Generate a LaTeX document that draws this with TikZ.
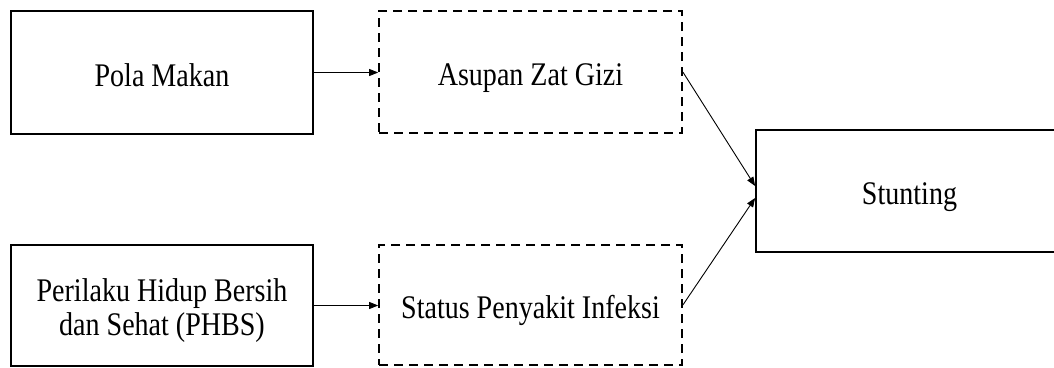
\documentclass[tikz,border=0pt]{standalone}
\usepackage{fontspec}
\setmainfont{Liberation Serif}[FakeStretch=0.85]
\usetikzlibrary{arrows.meta}
\tikzset{
  box/.style={draw, line width=1.8pt, inner sep=0pt, align=center,
    font=\fontsize{33}{34}\selectfont},
  solidbox/.style={box},
  dashbox/.style={box, line width=1.7pt, dash pattern=on 9pt off 6pt},
  oneline/.style={text height=27pt, text depth=0pt},
  link/.style={line width=0.9pt, -{Triangle[length=9pt,width=7pt]}}
}
\begin{document}
\begin{tikzpicture}[x=1pt, y=-1pt]
  \clip (0,0) rectangle (1054,367);
  \fill[white] (0,0) rectangle (1054,367);

  % first column: the two determinants
  \node[solidbox, oneline, minimum width=302pt, minimum height=123pt]
    (pola) at (162,72.5) {Pola Makan};
  \node[solidbox, minimum width=302pt, minimum height=121pt]
    (phbs) at (162,305.5) {\rule{0pt}{34pt}Perilaku Hidup Bersih\\dan Sehat (PHBS)};

  % second column: intermediate factors
  \node[dashbox, oneline, minimum width=303pt, minimum height=122pt]
    (asupan) at (530.5,72) {Asupan Zat Gizi};
  \node[dashbox, oneline, minimum width=303pt, minimum height=120pt]
    (status) at (530.5,305) {Status Penyakit Infeksi};

  % outcome
  \node[solidbox, oneline, minimum width=307pt, minimum height=122pt]
    (stunting) at (909.5,191) {Stunting};

  % connectors
  \draw[link] (pola.east) -- (pola.east -| asupan.west);
  \draw[link] (phbs.east) -- (phbs.east -| status.west);
  \draw[link] (asupan.east) -- ([yshift=5pt]stunting.west);
  \draw[link] (status.east) -- ([yshift=-7pt]stunting.west);
\end{tikzpicture}
\end{document}
